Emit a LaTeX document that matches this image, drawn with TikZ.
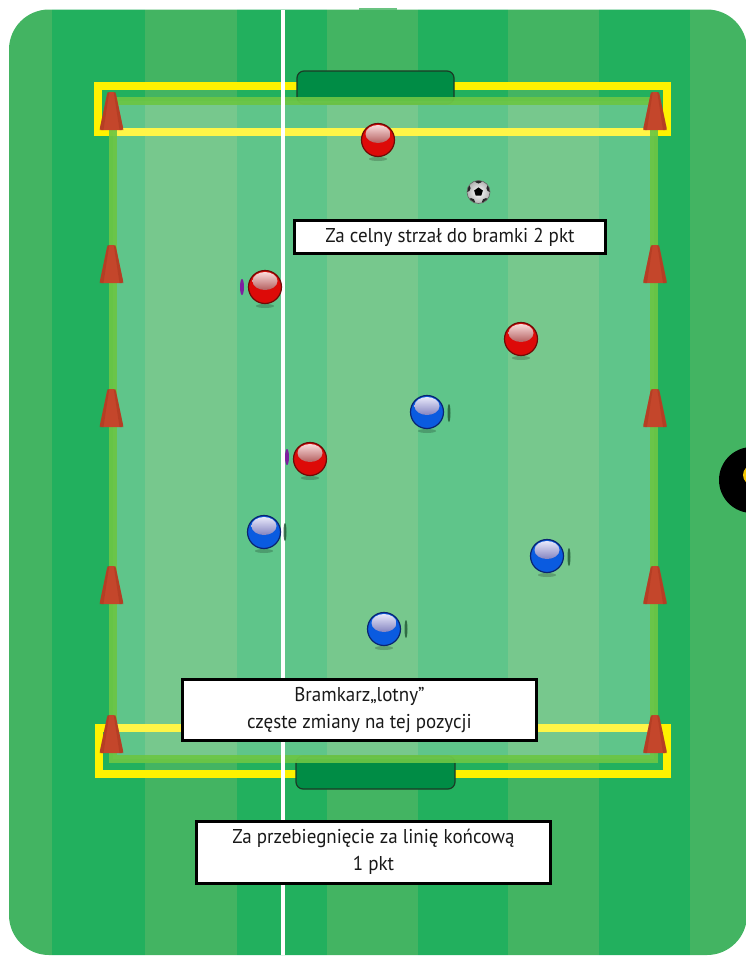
\documentclass[tikz,border=0pt]{standalone}
\usepackage{fontspec}
\setmainfont{PT Sans}[FakeStretch=0.95]
\usetikzlibrary{calc}

\definecolor{stripeL}{HTML}{43B462}
\definecolor{stripeD}{HTML}{22B05E}
\definecolor{zoneline}{HTML}{6CC644}
\definecolor{markyellow}{HTML}{FFF200}
\definecolor{goalgreen}{HTML}{008C45}
\definecolor{goalrim}{HTML}{1C3A26}
\definecolor{conered}{HTML}{C4462B}
\definecolor{conedark}{HTML}{A8381F}
\definecolor{ballred}{HTML}{DD0A08}
\definecolor{ballredrim}{HTML}{6E0A06}
\definecolor{ballblue}{HTML}{0A5BE0}
\definecolor{ballbluerim}{HTML}{0A2470}
\definecolor{sliverpurple}{HTML}{7D1FA0}
\definecolor{slivergreen}{HTML}{245C38}
\definecolor{tipyellow}{HTML}{F2C400}

\tikzset{
  player/.style={circle, minimum size=33pt, inner sep=0pt, line width=1.2pt},
  redplayer/.style={player, draw=ballredrim, fill=ballred,
    path picture={\shade[top color=red!10!white, bottom color=red!50!black]
      ($(path picture bounding box.center)+(0,-6)$) ellipse[x radius=12.5pt, y radius=9pt];}},
  blueplayer/.style={player, draw=ballbluerim, fill=ballblue,
    path picture={\shade[top color=blue!6!white, bottom color=blue!45!gray!80!black]
      ($(path picture bounding box.center)+(0,-6)$) ellipse[x radius=12.5pt, y radius=9pt];}},
  footballnode/.style={circle, minimum size=23pt, inner sep=0pt, draw=black!60, line width=0.6pt,
    inner color=white, outer color=black!30,
    path picture={
      \coordinate (fbc) at (path picture bounding box.center);
      \fill[black] ($(fbc)+(90:4.6pt)$) -- ($(fbc)+(162:4.6pt)$) -- ($(fbc)+(234:4.6pt)$)
        -- ($(fbc)+(306:4.6pt)$) -- ($(fbc)+(18:4.6pt)$) -- cycle;
      \foreach \ang in {90,162,234,306,18}
        \fill[black!85] ($(fbc)+(\ang:12.5pt)$) circle (4pt);
    }},
  infobox/.style={draw=black, line width=3pt, fill=white, align=center, inner sep=0pt,
    text=black!90, font=\fontsize{20}{26.5}\selectfont},
  marking/.style={draw=markyellow, line width=8pt},
  goalbox/.style={fill=goalgreen, draw=goalrim, line width=1.2pt, rounded corners=7pt},
  cone/.pic={
    \fill[conered, rounded corners=2pt] (-12,0) -- (-4,-38) -- (4,-38) -- (12,0) -- cycle;
    \fill[conedark, opacity=0.5] (-12,0) -- (-4,-38) -- (-2.2,-38) -- (-8,0) -- cycle;
    \fill[conedark, opacity=0.5] (12,0) -- (4,-38) -- (2.2,-38) -- (8,0) -- cycle;
  },
  playershadow/.style={fill=black, opacity=0.2},
}

\begin{document}
\begin{tikzpicture}[x=1pt, y=-1pt]
\useasboundingbox (0,0) rectangle (745,956);

% striped pitch with rounded corners
\begin{scope}
  \clip[rounded corners=40pt] (9,9.5) rectangle (747,955);
  \foreach \a/\b/\c in {0/52/stripeL, 52/145/stripeD, 145/237/stripeL, 237/327/stripeD,
      327/418/stripeL, 418/508/stripeD, 508/599/stripeL, 599/690/stripeD, 690/760/stripeL}
    \fill[\c] (\a,0) rectangle (\b,960);
\end{scope}
\fill[stripeL!80!white] (359,8) rectangle (397,10);

% yellow end zones
\draw[marking] (98,86) rectangle (667,132);
\draw[marking] (99,728) rectangle (667,774);

% goals
\draw[goalbox] (297,104) -- (297,71) -- (454,71) -- (454,104) -- cycle;
\draw[goalbox] (296,756) -- (296,789) -- (455,789) -- (455,756) -- cycle;

% playing area
\fill[white, opacity=0.28] (113,101) rectangle (654,759);
\draw[zoneline, line width=8pt, opacity=0.92] (113,101) rectangle (654,759);

% halfway line
\draw[white, line width=3.5pt] (283,10) -- (283,955);

% cones along both sides
\foreach \cy in {130,283,427,604,753} {
  \pic at (111.5,\cy) {cone};
  \pic at (655,\cy) {cone};
}

% shadows under players
\foreach \px/\py in {378/140, 265/287, 521/339, 310/459, 427/412, 264/532, 547/556, 384/629}
  \fill[playershadow] (\px,\py+19) ellipse[x radius=9pt, y radius=2pt];

% partly hidden markers beside players
\fill[sliverpurple] (242,287) ellipse[x radius=2pt, y radius=8pt];
\fill[sliverpurple] (287,457) ellipse[x radius=2pt, y radius=8pt];
\foreach \sx/\sy in {449/413, 285/532, 569/557, 406/629}
  \fill[slivergreen, opacity=0.85] (\sx,\sy) ellipse[x radius=1.5pt, y radius=9pt];

% red team
\node[redplayer] (r1) at (378,140) {};
\node[redplayer] (r2) at (265,287) {};
\node[redplayer] (r3) at (521,339) {};
\node[redplayer] (r4) at (310,459) {};

% blue team
\node[blueplayer] (b1) at (427,412) {};
\node[blueplayer] (b2) at (264,532) {};
\node[blueplayer] (b3) at (547,556) {};
\node[blueplayer] (b4) at (384,629) {};

% ball
\node[footballnode] (fb) at (478.5,192) {};

% notes
\node[infobox, minimum width=311pt, minimum height=33pt] (note1) at (450,237)
  {Za celny strzał do bramki 2 pkt};
\node[infobox, minimum width=354pt, minimum height=61pt] (note2) at (359.5,710)
  {Bramkarz„lotny”\\częste zmiany na tej pozycji};
\node[infobox, minimum width=354pt, minimum height=62pt] (note3) at (373.5,852)
  {Za przebiegnięcie za linię końcową\\1 pkt};

% tab on the right edge
\fill[black] (752,480) circle (33);
\fill[tipyellow] (753,475) circle (10);
\end{tikzpicture}
\end{document}
